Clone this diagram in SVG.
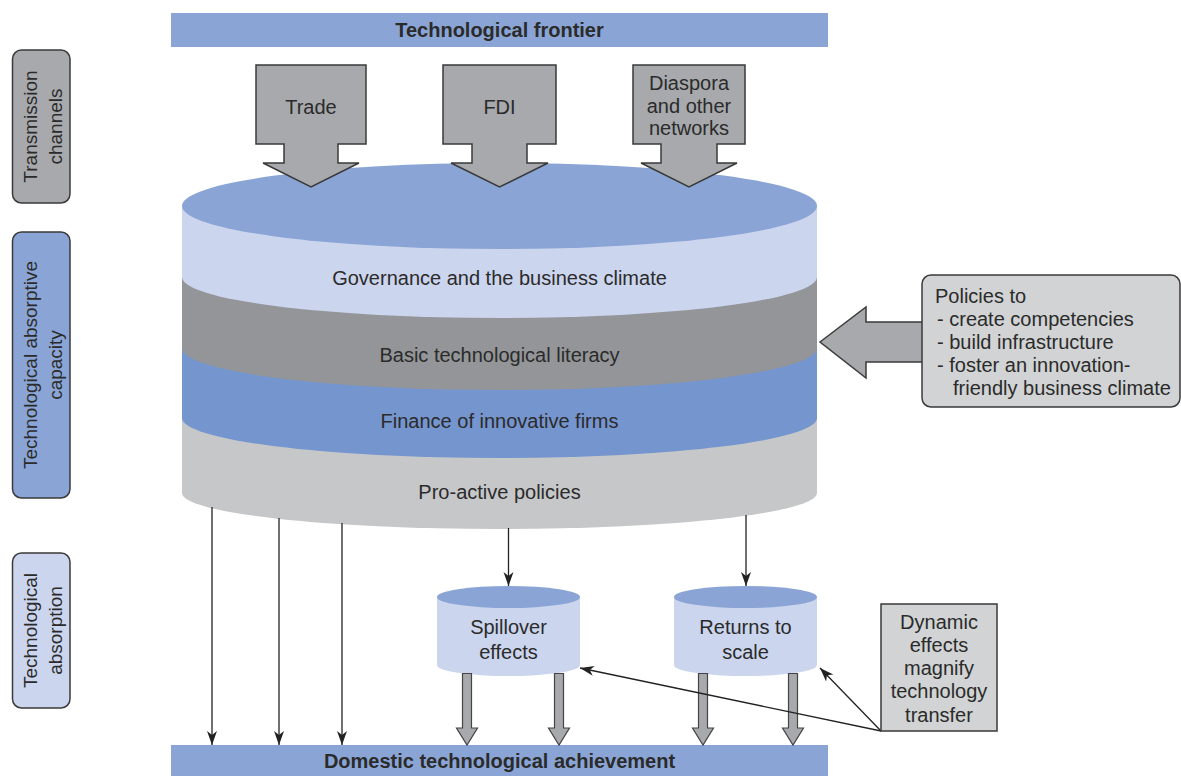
<svg xmlns="http://www.w3.org/2000/svg" width="1181" height="776" viewBox="0 0 1181 776">
<defs>
<style>
text{font-family:"Liberation Sans",Arial,sans-serif;font-size:20px;fill:#2b2b2b}
.b{font-weight:bold}
.m{text-anchor:middle}
.lbl{font-size:19px;text-anchor:middle}
.bar{fill:#8aa5d5}
.blk{fill:#a7a9ac;stroke:#3a3a3a;stroke-width:1.5}
.box{fill:#d1d3d4;stroke:#3a3a3a;stroke-width:1.5}
.side{stroke:#3a3a3a;stroke-width:1.5}
.thin{stroke:#222;stroke-width:1.3;fill:none}
.thick{fill:#a7a9ac;stroke:#444;stroke-width:1.2}
</style>
<marker id="ah" markerUnits="userSpaceOnUse" markerWidth="16" markerHeight="12" refX="14" refY="5" orient="auto">
<path d="M0,0 L14,5 L0,10 L4,5 Z" fill="#222"/>
</marker>
</defs>

<g id="frontier">
<rect class="bar" x="171" y="13" width="657" height="34"/>
<text class="b m" x="499.5" y="37">Technological frontier</text>
</g>

<g id="achievement">
<rect class="bar" x="171" y="745" width="657" height="31"/>
<text class="b m" x="499.5" y="768">Domestic technological achievement</text>
</g>

<g id="absorptive-cylinder">
<path d="M182,418 L182,493 A317.5,36 0 0 0 817,493 L817,418 Z" fill="#c6c7c9"/>
<path d="M182,348 L182,418 A317.5,40 0 0 0 817,418 L817,348 Z" fill="#7595cf"/>
<path d="M182,277 L182,348 A317.5,42 0 0 0 817,348 L817,277 Z" fill="#939598"/>
<path d="M182,206 L182,277 A317.5,41 0 0 0 817,277 L817,206 Z" fill="#ccd5ee"/>
<ellipse cx="499.5" cy="206" rx="317.5" ry="43" fill="#8aa5d5"/>
<text class="m" x="499.5" y="285">Governance and the business climate</text>
<text class="m" x="499.5" y="362">Basic technological literacy</text>
<text class="m" x="499.5" y="428">Finance of innovative firms</text>
<text class="m" x="499.5" y="499">Pro-active policies</text>
</g>

<g id="trade">
<polygon class="blk" points="256,65 366,65 366,144 338,144 338,163 359,163 311,187 263,163 284,163 284,144 256,144"/>
<text class="m" x="311" y="114">Trade</text>
</g>

<g id="fdi">
<polygon class="blk" points="443,65 556,65 556,144 527,144 527,163 548,163 499.5,187 451,163 472,163 472,144 443,144"/>
<text class="m" x="499.5" y="114">FDI</text>
</g>

<g id="diaspora">
<polygon class="blk" points="633,65 745,65 745,144 717,144 717,163 737,163 689,187 641,163 661,163 661,144 633,144"/>
<text class="m" x="689" y="90">Diaspora</text>
<text class="m" x="689" y="113">and other</text>
<text class="m" x="689" y="135">networks</text>
</g>

<g id="label-transmission">
<rect x="12.5" y="50" width="57.5" height="153" rx="9" fill="#a7a9ac" class="side"/>
<text class="lbl" transform="translate(37,126.5) rotate(-90)">Transmission</text>
<text class="lbl" transform="translate(62,126.5) rotate(-90)">channels</text>
</g>

<g id="label-capacity">
<rect x="12.5" y="232" width="57.5" height="266" rx="9" fill="#8aa5d5" class="side"/>
<text class="lbl" transform="translate(37,365) rotate(-90)">Technological absorptive</text>
<text class="lbl" transform="translate(62,365) rotate(-90)">capacity</text>
</g>

<g id="label-absorption">
<rect x="12.5" y="553" width="57.5" height="155" rx="9" fill="#ccd5ee" class="side"/>
<text class="lbl" transform="translate(37,630.5) rotate(-90)">Technological</text>
<text class="lbl" transform="translate(62,630.5) rotate(-90)">absorption</text>
</g>

<g id="policies">
<polygon class="blk" points="820,342 866,307 866,322 924,322 924,362 866,362 866,378"/>
<rect class="box" x="922" y="275" width="258" height="132" rx="9"/>
<text x="935" y="303">Policies to</text>
<text x="937" y="326">- create competencies</text>
<text x="937" y="349">- build infrastructure</text>
<text x="937" y="372">- foster an innovation-</text>
<text x="953" y="395">friendly business climate</text>
</g>

<g id="spillover">
<path d="M437,597 L437,665 A71.5,11 0 0 0 580,665 L580,597 Z" fill="#ccd5ee"/>
<ellipse cx="508.5" cy="597" rx="71.5" ry="11" fill="#8aa5d5"/>
<text class="m" x="508.5" y="634">Spillover</text>
<text class="m" x="508.5" y="659">effects</text>
</g>

<g id="returns">
<path d="M674,597 L674,665 A71.5,11 0 0 0 817,665 L817,597 Z" fill="#ccd5ee"/>
<ellipse cx="745.5" cy="597" rx="71.5" ry="11" fill="#8aa5d5"/>
<text class="m" x="745.5" y="634">Returns to</text>
<text class="m" x="745.5" y="659">scale</text>
</g>

<g id="connectors">
<polygon class="thick" points="462.5,673.5 471.5,673.5 471.5,728 477.5,728 467,745 456.5,728 462.5,728"/>
<polygon class="thick" points="554.5,673.5 563.5,673.5 563.5,728 569.5,728 559,745 548.5,728 554.5,728"/>
<polygon class="thick" points="698.5,673.5 707.5,673.5 707.5,728 713.5,728 703,745 692.5,728 698.5,728"/>
<polygon class="thick" points="788.5,673.5 797.5,673.5 797.5,728 803.5,728 793,745 782.5,728 788.5,728"/>
<line class="thin" x1="212" y1="507" x2="212" y2="745" marker-end="url(#ah)"/>
<line class="thin" x1="279" y1="518" x2="279" y2="745" marker-end="url(#ah)"/>
<line class="thin" x1="342" y1="523" x2="342" y2="745" marker-end="url(#ah)"/>
<line class="thin" x1="508.5" y1="528" x2="508.5" y2="586" marker-end="url(#ah)"/>
<line class="thin" x1="746" y1="515" x2="746" y2="586" marker-end="url(#ah)"/>
<line class="thin" x1="881" y1="731" x2="580" y2="668" marker-end="url(#ah)"/>
<line class="thin" x1="881" y1="731" x2="820" y2="668" marker-end="url(#ah)"/>
</g>

<g id="dynamic">
<rect class="box" x="881" y="604" width="116" height="127"/>
<text class="m" x="939" y="629">Dynamic</text>
<text class="m" x="939" y="652">effects</text>
<text class="m" x="939" y="675">magnify</text>
<text class="m" x="939" y="698">technology</text>
<text class="m" x="939" y="722">transfer</text>
</g>
</svg>
